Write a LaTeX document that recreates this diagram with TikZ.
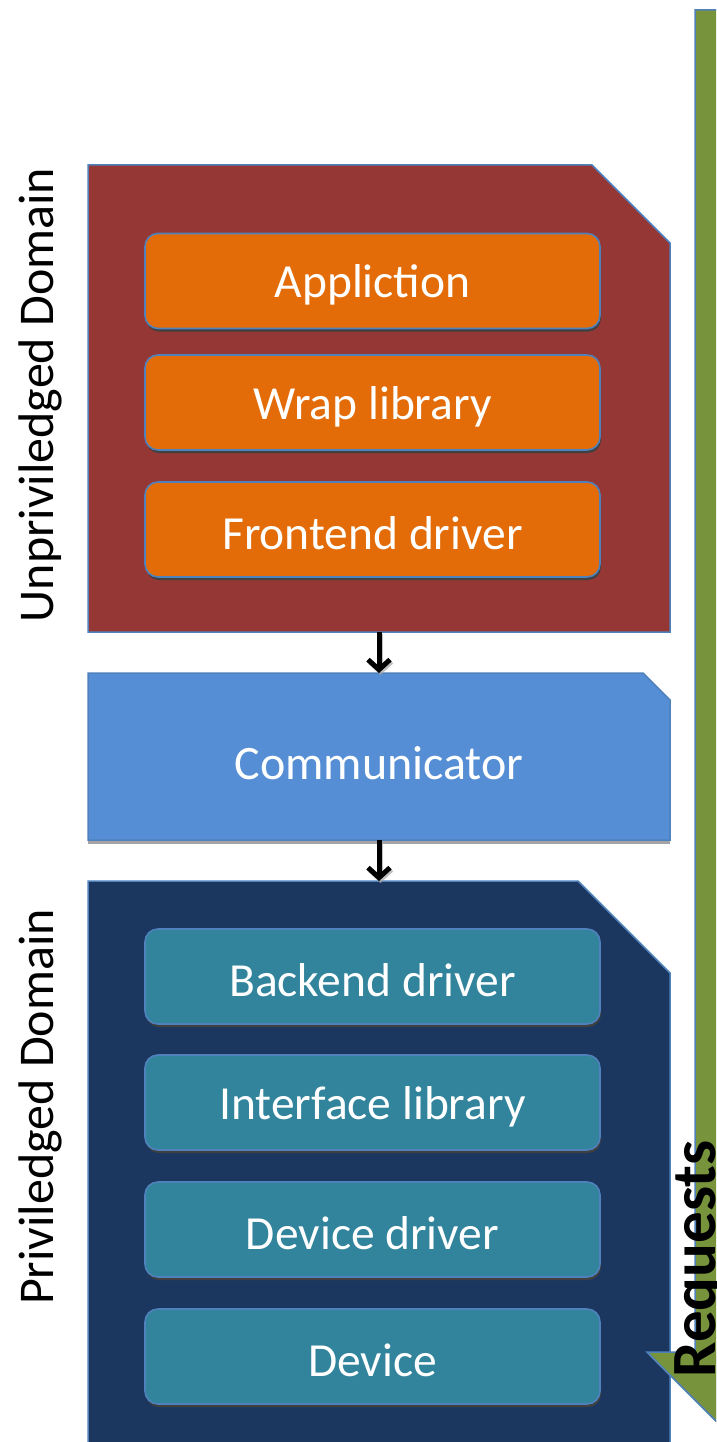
\documentclass[tikz,border=0pt]{standalone}
\usepackage{fontspec}
\setmainfont{Carlito}
\usetikzlibrary{arrows.meta}

\definecolor{domred}{HTML}{953735}
\definecolor{layerorange}{HTML}{E36C09}
\definecolor{commblue}{HTML}{558ED5}
\definecolor{domnavy}{HTML}{1B3760}
\definecolor{layerteal}{HTML}{31849B}
\definecolor{reqgreen}{HTML}{77933C}
\definecolor{edgeblue}{HTML}{4F81BD}

\tikzset{
  placeholder/.style={inner sep=0pt, outer sep=0pt, anchor=north west},
  domainshape/.style={draw=edgeblue, line width=1.5pt, line join=miter},
  boxshadow/.style={fill=black!45, opacity=.8},
  layer/.style={rounded corners=13pt, draw=edgeblue, line width=1.6pt,
    minimum width=455pt, minimum height=95pt, inner sep=0pt,
    text=white, font=\fontsize{47.5}{57}\selectfont},
  layershadow/.style={fill=black!75, rounded corners=13pt,
    minimum width=455pt, minimum height=95pt, inner sep=0pt},
  domlabel/.style={rotate=90, font=\fontsize{50}{60}\selectfont, text=black},
  flow/.style={line width=5pt, -{Straight Barb[length=10pt,width=22pt]}},
}

\begin{document}
\begin{tikzpicture}[x=1pt, y=-1pt]
  \useasboundingbox (0,0) rectangle (716,1442);
  \clip (0,0) rectangle (716,1442);
  \fill[white] (0,0) rectangle (716,1442);

  % frames of the three domain areas
  \node[placeholder, minimum width=582pt, minimum height=467pt] (unpriv) at (88,165) {};
  \node[placeholder, minimum width=582pt, minimum height=167pt] (comm) at (88,673) {};
  \node[placeholder, minimum width=582pt, minimum height=600pt] (priv) at (88,881) {};

  % unprivileged domain with its soft shadow
  \fill[boxshadow, yshift=-4pt] (unpriv.north west) -- ([xshift=-78pt]unpriv.north east)
     -- ([yshift=-78pt]unpriv.north east) -- (unpriv.south east) -- (unpriv.south west) -- cycle;
  \path[domainshape, fill=domred] (unpriv.north west) -- ([xshift=-78pt]unpriv.north east)
     -- ([yshift=-78pt]unpriv.north east) -- (unpriv.south east) -- (unpriv.south west) -- cycle;

  % communicator
  \fill[boxshadow] ([yshift=-4pt]comm.west |- comm.south) rectangle ([yshift=-1pt]comm.south east);
  \path[domainshape, fill=commblue] (comm.north west) -- ([xshift=-27pt]comm.north east)
     -- ([yshift=-27pt]comm.north east) -- (comm.south east) -- (comm.south west) -- cycle;
  \node[text=white, font=\fontsize{48}{58}\selectfont] (commtext) at ([yshift=-7pt]comm.center) {Communicator};

  % privileged domain
  \path[domainshape, fill=domnavy] (priv.north west) -- ([xshift=-92pt]priv.north east)
     -- ([yshift=-92pt]priv.north east) -- (priv.south east) -- (priv.south west) -- cycle;

  % layers of the unprivileged domain
  \foreach \name/\yc/\txt in {app/281/Appliction, wrap/402.5/Wrap library, front/529.5/Frontend driver} {
    \node[layershadow] at (373.5,\yc+3) {};
    \node[layer, fill=layerorange] (\name) at (372.5,\yc) {};
    \node[text=white, font=\fontsize{47.5}{57}\selectfont] at (372.5,\yc+4) {\txt};
  }

  % layers of the privileged domain
  \foreach \name/\yc/\txt in {back/976.5/Backend driver, iface/1102.5/Interface library,
                              devdrv/1229.5/Device driver, dev/1356.5/Device} {
    \node[layershadow] at (373.5,\yc+3) {};
    \node[layer, fill=layerteal] (\name) at (372.5,\yc) {};
    \node[text=white, font=\fontsize{47.5}{57}\selectfont] at (372.5,\yc+4) {\txt};
  }

  % flow between the domains
  \draw[flow, black!35, opacity=.7] ([xshift=1.5pt,yshift=-2pt]unpriv.south) -- ([xshift=1.5pt,yshift=-2pt]comm.north);
  \draw[flow] (unpriv.south) -- (comm.north);
  \draw[flow, black!35, opacity=.7] ([xshift=1.5pt,yshift=-2pt]comm.south) -- ([xshift=1.5pt,yshift=-2pt]priv.north);
  \draw[flow] (comm.south) -- (priv.north);

  % domain labels
  \node[domlabel] (ulabel) at (40,395) {Unpriviledged Domain};
  \node[domlabel] (plabel) at (40,1107) {Priviledged Domain};

  % requests arrow
  \fill[black!40] (649,1355) -- (730,1436) -- (811,1355) -- cycle;
  \path[draw=edgeblue, line width=1.5pt, fill=reqgreen, line join=miter]
     (695,10) -- (761,10) -- (761,1352) -- (809,1352) -- (728,1433)
     -- (647,1352) -- (695,1352) -- cycle;
  \node[rotate=90, anchor=base west, font=\bfseries\fontsize{63}{75}\selectfont, text=black]
     (req) at (715,1381) {Requests};
\end{tikzpicture}
\end{document}
